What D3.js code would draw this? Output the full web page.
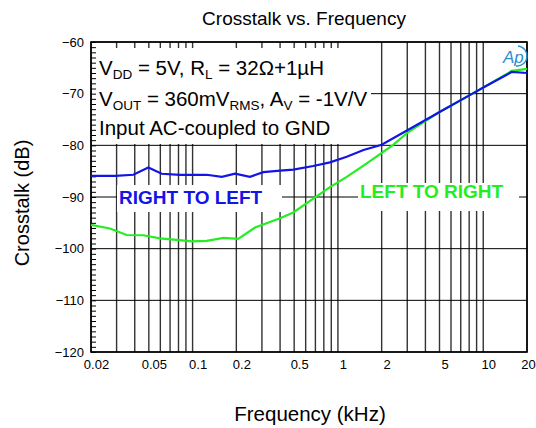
<!DOCTYPE html>
<html>
<head>
<meta charset="utf-8">
<script src="https://cdn.jsdelivr.net/npm/d3@7"></script>
<style>
  body { margin: 0; background: #fff; }
  text { font-family: "Liberation Sans", Arial, sans-serif; }
</style>
</head>
<body>
<svg id="chart" width="536" height="428"></svg>
<script>
// RIGHT TO LEFT (blue)
const freqRL = [0.02, 0.0293, 0.0391, 0.0496, 0.0613, 0.082, 0.125, 0.159, 0.196, 0.248, 0.307, 0.4, 0.493, 0.677, 0.882, 1.15, 1.5, 2.0, 3.05, 5.04, 8.55, 10.3, 15.7, 20];
const dbRL = [-85.9, -85.9, -85.7, -84.3, -85.5, -85.7, -85.7, -86.1, -85.5, -86.1, -85.2, -84.9, -84.7, -84.0, -83.3, -82.2, -80.9, -79.9, -77.0, -73.5, -69.9, -68.6, -65.8, -66.0];

// LEFT TO RIGHT (green)
const freqLR = [0.02, 0.027, 0.0352, 0.0458, 0.0597, 0.0777, 0.0986, 0.125, 0.163, 0.206, 0.269, 0.4, 0.493, 0.677, 0.882, 1.15, 1.58, 2.4, 3.0, 4.0, 5.04, 8.55, 10.3, 15.7, 20];
const dbLR = [-95.4, -96.1, -97.35, -97.4, -98.0, -98.3, -98.6, -98.5, -97.9, -98.1, -95.9, -94.1, -93.0, -90.3, -88.1, -86.1, -83.5, -79.9, -77.6, -75.3, -73.5, -69.9, -68.6, -65.6, -65.2];

const xTickLabels = [0.02, 0.05, 0.1, 0.2, 0.5, 1, 2, 5, 10, 20];
const yTickLabels = [-60, -70, -80, -90, -100, -110, -120];

const svg = d3.select("#chart");
const plotL = 91, plotR = 527, plotT = 42, plotB = 352;

const x = d3.scaleLog().domain([0.02, 20]).range([plotL, plotR]);
const y = d3.scaleLinear().domain([-120, -60]).range([plotB, plotT]);

// vertical log grid
svg.append("g")
  .selectAll("line")
  .data(x.ticks())
  .enter()
  .append("line")
  .attr("x1", d => x(d)).attr("x2", d => x(d))
  .attr("y1", plotT).attr("y2", plotB)
  .attr("stroke", "#333")
  .attr("stroke-width", 1.4);

// horizontal grid
svg.append("g")
  .selectAll("line")
  .data(yTickLabels)
  .enter()
  .append("line")
  .attr("x1", plotL).attr("x2", plotR)
  .attr("y1", d => y(d)).attr("y2", d => y(d))
  .attr("stroke", "#000")
  .attr("stroke-width", 1);

// white boxes behind the annotations
svg.append("rect").attr("x", plotL + 1).attr("y", 48).attr("width", 279).attr("height", 96).attr("fill", "#fff");
svg.append("rect").attr("x", 117).attr("y", 185).attr("width", 165).attr("height", 27).attr("fill", "#fff");
svg.append("rect").attr("x", 358).attr("y", 183).attr("width", 161).attr("height", 28).attr("fill", "#fff");

// minor ticks on left axis, pointing inward
svg.append("g")
  .attr("transform", `translate(${plotL},0)`)
  .call(d3.axisRight(y).ticks(60).tickSize(5).tickFormat(""))
  .call(g => g.select(".domain").remove())
  .selectAll("line").attr("stroke", "#000");

// y labels
svg.append("g")
  .attr("transform", `translate(${plotL},0)`)
  .call(d3.axisLeft(y).tickValues(yTickLabels).tickSize(0).tickPadding(7))
  .call(g => g.select(".domain").remove())
  .selectAll("text")
  .attr("font-size", 13)
  .attr("fill", "#000")
  .style("font-family", '"Liberation Sans", Arial, sans-serif');

// x labels
svg.append("g")
  .attr("transform", `translate(0,${plotB})`)
  .call(d3.axisBottom(x).tickValues(xTickLabels).tickFormat(d => d).tickSize(0).tickPadding(8))
  .call(g => g.select(".domain").remove())
  .selectAll("text")
  .attr("font-size", 13)
  .attr("dx", (d, i, n) => i === n.length - 1 ? 1 : 5)
  .attr("fill", "#000")
  .style("font-family", '"Liberation Sans", Arial, sans-serif');

// frame
svg.append("rect")
  .attr("x", plotL).attr("y", plotT)
  .attr("width", plotR - plotL).attr("height", plotB - plotT)
  .attr("fill", "none").attr("stroke", "#000").attr("stroke-width", 1.6);

const line = d3.line().x(d => x(d[0])).y(d => y(d[1]));

svg.append("path")
  .datum(d3.zip(freqLR, dbLR))
  .attr("d", line)
  .attr("fill", "none")
  .attr("stroke", "#22ee22")
  .attr("stroke-width", 2.2);

svg.append("path")
  .datum(d3.zip(freqRL, dbRL))
  .attr("d", line)
  .attr("fill", "none")
  .attr("stroke", "#1414e6")
  .attr("stroke-width", 2.2);

// conditions text
const cond = svg.append("g").attr("font-size", 20.5).attr("fill", "#000");
const t1 = cond.append("text").attr("x", 99).attr("y", 75);
t1.append("tspan").text("V");
t1.append("tspan").attr("font-size", 13.5).attr("dy", 4).text("DD");
t1.append("tspan").attr("dy", -4).text(" = 5V, R");
t1.append("tspan").attr("font-size", 13.5).attr("dy", 4).text("L");
t1.append("tspan").attr("dy", -4).text(" = 32Ω+1µH");

const t2 = cond.append("text").attr("x", 99).attr("y", 106);
t2.append("tspan").text("V");
t2.append("tspan").attr("font-size", 13.5).attr("dy", 4).text("OUT");
t2.append("tspan").attr("dy", -4).text(" = 360mV");
t2.append("tspan").attr("font-size", 13.5).attr("dy", 4).text("RMS");
t2.append("tspan").attr("dy", -4).text(", A");
t2.append("tspan").attr("font-size", 13.5).attr("dy", 4).text("V");
t2.append("tspan").attr("dy", -4).text(" = -1V/V");

cond.append("text").attr("x", 99).attr("y", 135).text("Input AC-coupled to GND");

// series labels
svg.append("text")
  .attr("x", 119).attr("y", 203.5)
  .attr("font-size", 19).attr("font-weight", "bold")
  .attr("fill", "#1414e6")
  .text("RIGHT TO LEFT");

svg.append("text")
  .attr("x", 360).attr("y", 198)
  .attr("font-size", 19).attr("font-weight", "bold")
  .attr("fill", "#22ee22")
  .text("LEFT TO RIGHT");

// Ap logo
const logo = svg.append("g");
logo.append("rect").attr("x", 501).attr("y", 45).attr("width", 25).attr("height", 22).attr("fill", "#fff");
logo.append("text")
  .attr("x", 503).attr("y", 63)
  .attr("font-size", 17).attr("font-style", "italic")
  .attr("fill", "#2a8fd0")
  .text("Ap");
logo.append("path")
  .attr("d", "M518,46 A10,10 0 0 1 516,66")
  .attr("fill", "none")
  .attr("stroke", "#2a8fd0").attr("stroke-width", 1.4);

// titles
svg.append("text")
  .attr("x", 304).attr("y", 25)
  .attr("text-anchor", "middle")
  .attr("font-size", 19)
  .text("Crosstalk vs. Frequency");

svg.append("text")
  .attr("x", 310).attr("y", 421)
  .attr("text-anchor", "middle")
  .attr("font-size", 20.5)
  .text("Frequency (kHz)");

svg.append("text")
  .attr("transform", "translate(29,203) rotate(-90)")
  .attr("text-anchor", "middle")
  .attr("font-size", 20)
  .text("Crosstalk (dB)");
</script>
</body>
</html>
